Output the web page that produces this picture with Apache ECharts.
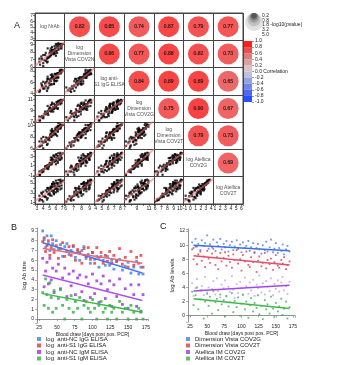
<!DOCTYPE html>
<html><head><meta charset="utf-8">
<script src="https://cdn.jsdelivr.net/npm/echarts@6/dist/echarts.min.js"></script>
<style>html,body{margin:0;padding:0;background:#fff}#c{width:351px;height:365px}</style>
</head><body><div id="c"></div>
<script>
const FONT = '"Liberation Sans", Arial, sans-serif';

// ---------- Panel A data ----------
const diagLabels = ['log NrAb', 'log\nDimension\nVista COV2N', 'log anti-\nS1 IgG ELISA', 'log\nDimension\nVista COV2G', 'log\nDimension\nVista COV2T', 'log Atellica\nCOV2G', 'log Atellica\nCOV2T'];
const nrab    = [3.5,3.4,4.0,3.8,4.2,3.8,4.4,4.8,4.3,4.6,5.0,4.4,5.1,4.9,5.3,5.0,5.2,5.7,5.1,5.6,5.4,5.9,5.5,5.9,5.4,6.0,6.3,5.9,5.8,6.4,6.3,6.1,6.7,6.4,6.7,6.3,6.9,6.8,6.7,7.1,
                 4.0,3.4,4.6,3.7,4.7,4.0,5.3,4.7,5.7,4.7,5.7,4.7,5.6,6.0,5.2,6.2,5.4,5.2,6.3,5.4,6.3,5.7,6.7,5.6,6.6,6.1,6.9,6.0,6.9,6.4];
const cov2n   = [6.3,6.7,6.5,7.0,6.9,7.1,6.8,7.3,7.6,7.1,7.5,7.9,7.4,7.3,7.9,7.9,7.6,7.8,8.2,7.8,8.2,7.8,8.3,8.5,8.3,8.1,8.6,8.4,8.8,8.3,8.7,8.9,8.5,8.9,8.8,9.1,8.8,9.1,9.1,9.1,
                 6.1,7.1,6.6,7.4,6.7,7.6,8.0,7.2,7.9,7.3,8.2,8.5,7.7,7.5,8.5,7.9,8.7,7.6,8.6,8.0,8.6,8.0,8.9,8.3,9.0,8.2,9.0,9.1,8.5,9.2];
const s1igg   = [4.6,4.3,4.9,5.3,4.9,5.5,5.3,5.1,5.8,6.2,5.5,6.0,6.2,5.9,5.7,6.5,6.7,6.3,6.2,6.9,6.7,6.3,7.0,6.8,7.4,6.8,6.8,7.5,7.4,6.9,7.6,7.4,7.9,7.4,7.8,7.6,8.1,7.6,8.2,8.1,
                 5.1,4.5,4.5,5.8,4.9,6.1,5.6,6.6,5.7,6.6,5.8,7.0,6.7,6.2,7.3,6.3,7.1,6.3,7.5,6.9,7.6,6.6,7.6,7.0,8.0,7.0,7.8,7.4,8.2,7.5];
const cov2g   = [7.2,7.9,7.6,8.0,8.4,7.8,8.4,8.2,8.8,8.5,8.9,8.3,8.9,9.2,8.8,9.5,8.9,9.3,9.5,9.3,9.2,9.8,9.4,9.8,10.1,9.4,10.1,10.0,9.7,10.4,10.1,10.5,10.1,10.7,10.4,10.6,10.3,10.9,10.7,10.9,
                 7.8,7.2,8.6,7.8,8.9,8.0,9.2,8.6,9.6,8.6,9.4,9.8,8.8,9.8,9.2,10.2,9.1,10.0,9.4,10.4,9.3,10.2,10.5,9.6,10.8,9.9,10.7,9.8,10.8,10.4];
const cov2t   = [6.4,6.3,7.0,6.5,7.2,7.2,7.1,7.7,7.4,7.8,7.4,7.9,8.2,7.8,8.2,7.9,8.5,8.8,8.3,8.3,8.9,8.6,9.0,8.5,9.0,9.2,8.9,9.5,9.1,9.4,9.1,9.7,9.5,9.9,9.5,9.9,10.1,9.8,10.2,10.1,
                 6.0,7.2,6.6,7.7,6.8,8.0,8.0,7.5,8.7,7.8,8.8,7.8,8.8,8.4,9.1,8.2,9.4,8.6,9.4,8.4,9.6,8.8,9.6,8.9,10.0,9.2,10.0,9.2,10.1,10.4];
const atCov2g = [-0.9,-0.2,-0.2,-0.4,0.3,0.1,0.8,0.3,0.8,0.4,1.2,0.9,1.3,0.8,1.5,1.5,1.3,1.9,1.6,2.0,1.5,2.0,2.3,1.9,2.3,2.2,2.6,2.2,2.8,2.5,2.9,2.6,3.0,2.9,3.3,3.0,3.4,3.2,3.7,3.6,
                 -0.2,-0.9,0.6,-0.1,1.0,0.2,1.3,0.6,1.9,1.1,2.0,1.0,2.1,1.3,2.2,2.6,1.7,2.7,1.6,2.6,1.9,3.1,2.3,3.1,2.2,3.4,2.5,3.3,2.7,3.6];
const atCov2t = [1.7,1.4,2.3,1.5,2.3,2.8,2.1,2.7,2.2,3.2,2.7,3.5,2.5,3.5,3.4,3.0,4.0,3.4,4.0,3.1,4.2,3.8,3.5,4.4,4.8,3.9,4.5,3.9,4.9,4.4,5.0,4.1,5.0,4.6,5.5,4.7,5.3,5.1,5.7,5.5,
                 1.2,2.4,1.6,3.0,1.9,3.2,2.4,4.0,2.9,3.9,2.7,3.9,4.3,3.1,4.3,3.5,4.7,3.8,3.3,4.8,3.8,4.8,3.7,5.2,4.3,5.0,3.9,5.5,4.5,5.6];
// upper-triangle correlations, row by row
const corrValues = [0.82,0.85,0.74,0.87,0.79,0.77, 0.86,0.77,0.88,0.82,0.73, 0.84,0.89,0.89,0.65, 0.75,0.90,0.67, 0.79,0.73, 0.69];
const axisMin = [2.7, 5.9, 3.8, 6.9, 5.8, -1.3, 0.7];
const axisMax = [7.4, 9.6, 8.6, 11.8, 10.6, 4.4, 6.3];
const xTickLabels = [[3,4,5,6,7],[6,7,8,9],[4,5,6,7,8],[7,9,11],[6,7,8,9,10],[-1,0,1,2,3,4],[1,2,3,4,5,6]];
const yTickLabels = [[3,4,5,6,7],[6,7,8,9],[4,6,8],[7,9,11],[6,8,10],[-1,1,3],[1,3,5]];
const sizeLegendVals = [0.2, 0.8, 1.8, 3.2, 5.0];
const cbBreaks = [-1,-0.8,-0.6,-0.4,-0.2,0,0.2,0.4,0.6,0.8,1];
const cbColors = ['#2b4cff','#4f69f3','#7285ea','#97a2e2','#bec0dc','#d9c4c4','#dca0a0','#e07c7c','#ea4f4f','#ff1f1f'];

// ---------- Panel B data ----------
const bDays = [30,32,34,36,38,40,42,44,46,49,52,55,58,61,64,67,70,73,76,79,82,85,88,91,94,97,100,103,106,109,112,115,118,121,124,127,130,134,138,142,146,150,154,158,162,165,168,171];
const bNcIgG = [9.0,8.1,7.3,8.5,7.7,7.0,8.5,7.7,7.1,8.0,7.1,7.6,6.4,7.4,7.7,6.6,7.0,7.4,6.3,6.9,6.0,7.0,7.4,6.2,6.6,5.7,6.8,6.1,6.4,5.3,6.4,6.0,5.5,6.4,5.5,6.0,5.1,5.9,6.1,5.0,5.4,5.8,4.7,5.3,5.9,4.6,5.3,4.6];
const bS1IgG = [7.9,8.3,6.9,7.5,8.0,6.5,7.3,8.1,6.8,7.5,6.2,7.2,7.8,6.4,6.9,7.4,6.5,7.5,6.0,7.1,6.8,5.7,7.2,6.4,7.3,6.1,6.8,5.7,7.3,6.3,6.8,5.7,6.5,5.9,6.9,5.7,6.5,5.9,7.2,5.6,6.3,5.3,6.9,5.5,6.3,5.7,6.5,5.3];
const bNcIgM = [6.2,3.3,4.9,5.8,3.6,6.2,4.0,5.2,2.7,4.9,5.6,3.1,4.2,5.2,2.3,4.6,3.4,4.9,2.5,4.2,4.5,2.8,1.9,4.3,3.6,2.2,4.6,2.6,3.9,1.7,3.6,4.4,2.1,3.0,3.9,1.3,3.5,2.3,4.1,1.5,3.1,1.1,3.5,2.5,1.3,3.5,0.8,2.5];
const bS1IgM = [2.7,1.4,4.1,2.5,1.1,3.7,2.2,0.7,2.9,1.1,2.1,3.0,1.4,0.0,2.0,1.1,2.4,0.7,1.8,1.1,2.2,0.0,1.4,1.8,1.1,0.7,2.0,1.1,0.0,1.4,1.8,0.7,1.1,0.0,1.4,0.7,1.1,0.0,1.8,0.7,1.1,0.0,1.4,0.7,0.0,1.1,0.7,0.0];
const bNames = ['log  anti-NC IgG ELISA','log  anti-S1 IgG ELISA','log  anti-NC IgM ELISA','log  anti-S1 IgM ELISA'];
const trendDays = [30, 170];
const bTrends = [[7.8,4.7],[7.2,5.7],[4.5,1.9],[2.6,0.7]];
const bXTicks = [25,50,75,100,125,150,175];
const bYTicks = [0,1,2,3,4,5,6,7,8,9];

// ---------- Panel C data ----------
const cDays = [28,30,33,35,37,40,42,45,47,50,52,54,57,59,62,64,66,69,71,74,76,78,81,83,86,88,90,93,95,98,100,102,105,107,110,112,114,117,119,122,124,126,129,131,134,136,138,141,143,146,148,150,153,155,158,160,162,165,167,170];
const cVistaG = [10.4,9.6,10.9,9.8,10.2,9.3,10.7,9.9,10.3,11.4,9.5,10.1,9.7,10.8,9.2,10.4,9.9,10.9,9.4,10.2,9.7,10.6,9.1,10.0,10.5,9.3,9.8,10.7,9.5,10.1,9.0,10.4,9.6,9.9,10.6,9.2,9.7,10.3,8.9,9.6,10.2,9.4,8.8,10.0,9.3,10.5,9.1,9.7,10.8,9.0,9.5,10.3,8.9,9.6,9.2,10.1,8.7,9.4,9.9,9.1];
const cVistaT = [9.4,8.0,9.8,7.3,8.7,9.1,7.8,8.4,6.9,9.2,8.1,7.5,8.8,9.5,7.2,8.3,6.6,8.9,7.7,8.2,9.0,7.1,8.5,7.6,6.8,8.7,7.9,9.3,7.4,8.0,6.4,8.6,7.7,9.1,7.2,6.9,8.3,7.6,9.0,6.2,7.8,8.4,7.0,7.5,8.9,6.7,7.9,7.3,8.1,6.5,7.6,8.6,7.1,6.8,7.9,7.4,8.3,6.6,7.2,7.7];
const cAtG = [4.6,2.8,3.9,5.2,2.3,3.6,4.2,2.9,5.5,3.3,4.0,2.1,3.8,4.9,3.0,5.3,3.5,2.6,4.4,3.9,5.0,2.7,4.1,3.4,5.6,3.7,2.5,4.5,3.2,4.8,3.9,2.9,5.4,4.2,3.1,4.7,3.6,5.1,2.8,4.4,3.9,5.7,3.3,4.6,3.0,4.9,4.1,3.5,5.3,2.9,4.5,3.8,5.0,3.4,4.7,5.5,3.6,4.2,3.1,4.8];
const cAtT = [3.4,1.5,2.9,4.0,0.9,2.3,3.6,-0.4,2.0,3.1,1.4,2.7,0.3,3.5,1.9,2.4,0.8,3.0,1.6,2.2,-0.1,2.8,1.3,1.9,3.2,0.5,2.1,1.2,2.6,0.0,1.7,3.0,0.9,2.0,-0.3,1.5,2.5,0.6,1.8,1.1,2.9,0.2,1.4,-0.5,2.2,0.9,1.6,0.3,2.7,1.0,-0.2,1.8,0.6,1.3,2.4,0.1,1.0,2.0,-0.4,1.2];
const cNames = ['Dimension Vista COV2G','Dimension Vista COV2T','Atellica IM COV2G','Atellica IM COV2T'];
const cTrends = [[10.0,9.2],[8.5,7.2],[3.5,4.3],[2.4,1.0]];
const cYTicks = [0,2,4,6,8,10,12];

// ---------- build ----------
const vars = [nrab, cov2n, s1igg, cov2g, cov2t, atCov2g, atCov2t];
const N = 7, GX = 35, GY = 13, GW = 208, GH = 191;
const cw = GW / N, ch = GH / N;
const grids = [], xAxes = [], yAxes = [], series = [];
const inList = list => v => list.some(t => Math.abs(t - v) < 1e-6) ? String(Math.round(v)) : '';
const tickStyle = {lineStyle:{color:'#333', width:0.6}, length:2};
function addX(o){ xAxes.push(o); return xAxes.length - 1; }
function addY(o){ yAxes.push(o); return yAxes.length - 1; }

function fit(xs, ys) {
  const n = xs.length;
  const mx = xs.reduce((a,b)=>a+b,0)/n, my = ys.reduce((a,b)=>a+b,0)/n;
  let sxy = 0, sxx = 0;
  for (let k=0;k<n;k++){ sxy += (xs[k]-mx)*(ys[k]-my); sxx += (xs[k]-mx)*(xs[k]-mx); }
  const b = sxy/sxx; return [my - b*mx, b];
}

for (let i = 0; i < N; i++) {
  for (let j = 0; j <= i; j++) {
    const gi = grids.length;
    grids.push({left: GX + j*cw, top: GY + i*ch, width: cw, height: ch, show:false});
    const xi = addX({gridIndex: gi, type:'value', min: axisMin[j], max: axisMax[j], minInterval:1, maxInterval:1,
      axisLine:{show:false}, splitLine:{show:false},
      axisTick:Object.assign({show: i===N-1}, tickStyle),
      axisLabel:{show: i===N-1, fontSize:5, margin:2, color:'#222', fontFamily:FONT, formatter: inList(xTickLabels[j])}});
    const yi = addY({gridIndex: gi, type:'value', min: axisMin[i], max: axisMax[i], minInterval:1, maxInterval:1,
      axisLine:{show:false}, splitLine:{show:false},
      axisTick:Object.assign({show: j===0}, tickStyle),
      axisLabel:{show: j===0, fontSize:5, margin:2, color:'#222', fontFamily:FONT, formatter: inList(yTickLabels[i])}});
    if (i > j) {
      const xs = vars[j], ys = vars[i];
      series.push({type:'scatter', xAxisIndex: xi, yAxisIndex: yi, symbol:'rect', symbolSize:2.2,
        itemStyle:{color:'#000'}, silent:true, data: xs.map((x,k)=>[x, ys[k]])});
      const [a, b] = fit(xs, ys);
      series.push({type:'line', xAxisIndex: xi, yAxisIndex: yi, symbol:'none', clip:true, silent:true,
        lineStyle:{color:'rgba(240,110,110,0.55)', width:2},
        data: [[axisMin[j], a + b*axisMin[j]], [axisMax[j], a + b*axisMax[j]]]});
    }
  }
}

// overlay category grid for cell borders, circles and diagonal labels
const og = grids.length;
grids.push({left: GX, top: GY, width: GW, height: GH, show:true, borderColor:'#444', borderWidth:1});
const cats = [0,1,2,3,4,5,6];
const ogx = addX({gridIndex: og, type:'category', data: cats, boundaryGap:true,
  axisLine:{show:false}, axisTick:{show:false}, axisLabel:{show:false},
  splitLine:{show:true, interval:0, lineStyle:{color:'#444', width:1}}});
const ogy = addY({gridIndex: og, type:'category', data: cats, inverse:true, boundaryGap:true,
  axisLine:{show:false}, axisTick:{show:false}, axisLabel:{show:false},
  splitLine:{show:true, interval:0, lineStyle:{color:'#444', width:1}}});
const circleData = [];
let ci = 0;
for (let i = 0; i < N; i++) for (let j = i+1; j < N; j++) circleData.push([j, i, corrValues[ci++]]);
const circleSeriesIndex = series.length;
series.push({type:'scatter', xAxisIndex: ogx, yAxisIndex: ogy, symbolSize: 21, silent:true, z:5,
  data: circleData});
// correlation value text over the circles
series.push({type:'scatter', xAxisIndex: ogx, yAxisIndex: ogy, symbolSize: 1, silent:true, z:6,
  itemStyle:{color:'rgba(0,0,0,0)'},
  data: circleData.map(d => ({value:[d[0], d[1]], name: d[2].toFixed(2)})),
  label:{show:true, position:'inside', fontSize:5, color:'#111', textBorderColor:'#111', textBorderWidth:0.2,
    fontFamily:FONT, formatter: p => p.name}});
series.push({type:'scatter', xAxisIndex: ogx, yAxisIndex: ogy, symbolSize: 1, silent:true, z:5,
  itemStyle:{color:'rgba(0,0,0,0)'},
  data: diagLabels.map((t,k)=>({value:[k,k], name:t})),
  label:{show:true, position:'inside', fontSize:5, lineHeight:6, color:'#222',
    fontFamily:FONT, formatter: p => p.name}});

// colour bar
const cb = grids.length;
grids.push({left: 244, top: 41, width: 8, height: 61, show:false});
const cbx = addX({gridIndex: cb, type:'category', data:['c'], show:false, boundaryGap:true});
const cby = addY({gridIndex: cb, type:'value', min:-1, max:1, interval:0.2, position:'right',
  axisLine:{show:false}, splitLine:{show:false},
  axisTick:{show:true, length:2, lineStyle:{color:'#555', width:0.6}},
  axisLabel:{fontSize:5, margin:3, color:'#222', fontFamily:FONT,
    formatter: v => Math.abs(v) < 1e-9 ? '0.0 Correlation' : v.toFixed(1)}});
const cbOrder = [5,6,7,8,9,4,3,2,1,0];
cbOrder.forEach(k => {
  const h = cbBreaks[k+1] - cbBreaks[k];
  series.push({type:'bar', xAxisIndex: cbx, yAxisIndex: cby, stack:'cb', barWidth:'100%', silent:true,
    itemStyle:{color: cbColors[k]}, data:[k >= 5 ? h : -h]});
});

// size legend (-log10 pvalue)
const sl = grids.length;
grids.push({left: 248, top: 13, width: 12, height: 24, show:false});
const slx = addX({gridIndex: sl, type:'value', min:0, max:1, show:false});
addY({gridIndex: sl, type:'category', data: sizeLegendVals.map(v => v.toFixed(1)), inverse:true, position:'right',
  axisLine:{show:false}, axisTick:{show:false},
  axisLabel:{interval:0, fontSize:5, margin:2, color:'#222', fontFamily:FONT,
    formatter: (v, idx) => idx === 2 ? v + ' -log10(pvalue)' : v}});
const sly = addY({gridIndex: sl, type:'value', min:0, max:1, show:false});
const greys = ['#4d4d4d','#6e6e6e','#939393','#b9b9b9','#dadada'];
const slData = [];
for (let k = sizeLegendVals.length-1; k >= 0; k--) {
  const s = 5 + 2.6*sizeLegendVals[k];
  slData.push({value:[0.5, 1], symbolSize: s, symbolOffset:[0, s/2], itemStyle:{color: greys[k]}});
}
series.push({type:'scatter', xAxisIndex: slx, yAxisIndex: sly, silent:true, data: slData});

// Panel B
const mkBase = () => ({axisLine:{show:true, lineStyle:{color:'#777', width:0.8}},
  axisTick:{show:true, length:2, lineStyle:{color:'#777', width:0.6}}, splitLine:{show:false}});
const gb = grids.length;
grids.push({left: 37, top: 228, width: 111, height: 95, show:false});
const bx = addX(Object.assign({gridIndex: gb, type:'value', min:22, max:178, minInterval:25, maxInterval:25,
  name:'Blood draw [days post pos. PCR]', nameLocation:'middle', nameGap:9,
  nameTextStyle:{fontSize:5, color:'#222', fontFamily:FONT},
  axisLabel:{fontSize:5, margin:2, color:'#222', fontFamily:FONT, formatter: inList(bXTicks)}}, mkBase()));
const by = addY(Object.assign({gridIndex: gb, type:'value', min:-0.4, max:9.3, minInterval:1, maxInterval:1,
  name:'log Ab titre', nameLocation:'middle', nameGap:10,
  nameTextStyle:{fontSize:6, color:'#222', fontFamily:FONT},
  axisLabel:{fontSize:5, margin:3, color:'#222', fontFamily:FONT, formatter: inList(bYTicks)}}, mkBase()));
const bSeriesVals = [bNcIgG, bS1IgG, bNcIgM, bS1IgM];
const bPointCol = ['#3f7fe6','#e6323f','#9a2fe6','#2fae46'];
const bLineCol = ['#4a74ea','#ea6a78','#b152f0','#3bb84a'];
bSeriesVals.forEach((vals, s) => {
  series.push({type:'scatter', name: bNames[s], xAxisIndex: bx, yAxisIndex: by, symbol:'rect', symbolSize:2.8,
    itemStyle:{color: bPointCol[s]}, silent:true, data: bDays.map((d,k)=>[d, vals[k]])});
});
bTrends.forEach((t, s) => {
  series.push({type:'line', xAxisIndex: bx, yAxisIndex: by, symbol:'none', silent:true,
    lineStyle:{color: bLineCol[s], width:1.5}, data: trendDays.map((d,k)=>[d, t[k]])});
});

// Panel C
const gc = grids.length;
grids.push({left: 188, top: 229, width: 107, height: 93, show:false});
const cx = addX(Object.assign({gridIndex: gc, type:'value', min:22, max:178, minInterval:25, maxInterval:25,
  name:'Blood draw [days post pos. PCR]', nameLocation:'middle', nameGap:9,
  nameTextStyle:{fontSize:5, color:'#222', fontFamily:FONT},
  axisLabel:{fontSize:5, margin:2, color:'#222', fontFamily:FONT, formatter: inList(bXTicks)}}, mkBase()));
const cy = addY(Object.assign({gridIndex: gc, type:'value', min:-0.9, max:12.3, minInterval:2, maxInterval:2,
  name:'log Ab levels', nameLocation:'middle', nameGap:12,
  nameTextStyle:{fontSize:6, color:'#222', fontFamily:FONT},
  axisLabel:{fontSize:5, margin:3, color:'#222', fontFamily:FONT, formatter: inList(cYTicks)}}, mkBase()));
const cSeriesVals = [cVistaG, cVistaT, cAtG, cAtT];
const cPointCol = ['#4a7ae8','#e03a4c','#c69cf0','#3fae4c'];
const cLegendCol = ['#4a7ae8','#e03a4c','#9a3ae6','#3fae4c'];
const cLineCol = ['#3d6fe8','#e0506a','#a048f0','#40b848'];
cSeriesVals.forEach((vals, s) => {
  series.push({type:'scatter', name: cNames[s], xAxisIndex: cx, yAxisIndex: cy, symbol:'rect', symbolSize:1.8,
    itemStyle:{color: cPointCol[s]}, silent:true, data: cDays.map((d,k)=>[d, vals[k]])});
});
cTrends.forEach((t, s) => {
  series.push({type:'line', xAxisIndex: cx, yAxisIndex: cy, symbol:'none', silent:true,
    lineStyle:{color: cLineCol[s], width:1.5}, data: trendDays.map((d,k)=>[d, t[k]])});
});

const mkLegend = () => ({orient:'vertical', icon:'rect', itemWidth:4, itemHeight:4, itemGap:0.5, padding:0,
  textStyle:{fontSize:6, lineHeight:6, color:'#222', fontFamily:FONT}, selectedMode:false});

const option = {
  animation:false,
  backgroundColor:'#fff',
  title:[
    {text:'A', left:14, top:21, textStyle:{fontSize:9, fontWeight:'normal', color:'#222', fontFamily:FONT}, padding:0},
    {text:'B', left:11, top:223, textStyle:{fontSize:9, fontWeight:'normal', color:'#222', fontFamily:FONT}, padding:0},
    {text:'C', left:160, top:222, textStyle:{fontSize:9, fontWeight:'normal', color:'#222', fontFamily:FONT}, padding:0}
  ],
  grid: grids, xAxis: xAxes, yAxis: yAxes,
  visualMap:[{type:'continuous', show:false, min:-1, max:1, dimension:2, seriesIndex: circleSeriesIndex,
    inRange:{color:['#2040ff','#8090e8','#d0d0d0','#e06060','#ff0000']}}],
  legend:[
    Object.assign({data: bNames, left: 37, top: 336}, mkLegend()),
    Object.assign({data: cNames.map((n,s) => ({name:n, itemStyle:{color: cLegendCol[s]}})), left: 186, top: 336}, mkLegend())
  ],
  series: series
};
const chart = echarts.init(document.getElementById('c'), null, {renderer:'canvas'});
chart.setOption(option);
</script></body></html>
